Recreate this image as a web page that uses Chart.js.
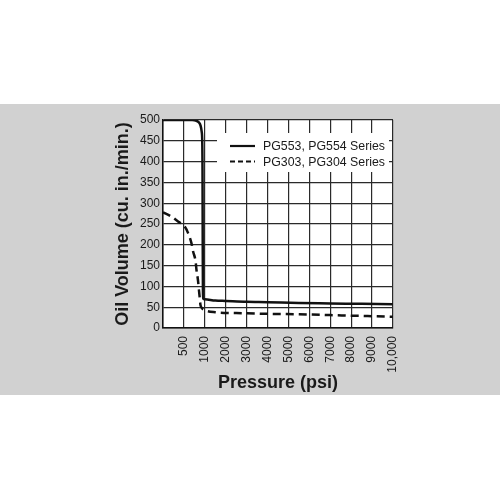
<!DOCTYPE html>
<html>
<head>
<meta charset="utf-8">
<script src="https://cdn.jsdelivr.net/npm/chart.js@4.4.1/dist/chart.umd.min.js"></script>
<style>
  body { margin: 0; background: #fff; }
  canvas { display: block; }
</style>
</head>
<body>
<canvas id="myChart" width="500" height="500"></canvas>
<script>
// tick labels along the pressure axis (equally spaced, not linear in psi)
var xTickLabels = ['', '500', '1000', '2000', '3000', '4000', '5000', '6000', '7000', '8000', '9000', '10,000'];

// PG553, PG554 Series
var pg553Psi = [0, 700, 800, 860, 900, 925, 938, 945, 950, 955, 962, 1000, 1500, 2000, 3000, 4000, 5500, 7000, 8500, 10000];
var pg553Oil = [500, 500, 498, 494, 486, 472, 450, 380, 200, 90, 71, 69, 66, 65, 63, 62, 60, 59, 58, 57];

// PG303, PG304 Series
var pg303Psi = [0, 200, 360, 520, 600, 680, 720, 780, 800, 835, 855, 875, 895, 930, 1000, 1500, 2500, 4000, 5500, 7000, 8500, 10000];
var pg303Oil = [278, 268, 256, 244, 228, 204, 184, 160, 140, 116, 96, 76, 56, 48, 43, 38, 36, 34, 33, 31, 29, 27];

var legendLabels = ['PG553, PG554 Series', 'PG303, PG304 Series'];

// position on the axis: 0-1000 psi takes two cells, then one cell per 1000 psi
function toPos(p) {
  return p <= 1000 ? p / 500 : 2 + (p - 1000) / 1000;
}
function pts(xs, ys) {
  return xs.map(function (p, i) { return { x: toPos(p), y: ys[i] }; });
}

Chart.defaults.font.family = '"Liberation Sans", Arial, sans-serif';
Chart.defaults.color = '#1a1a1a';

const background = {
  id: 'background',
  beforeDraw(chart) {
    const c = chart.ctx, a = chart.chartArea;
    c.save();
    c.fillStyle = '#fff';
    c.fillRect(0, 0, chart.width, chart.height);
    c.fillStyle = '#d1d1d1';
    c.fillRect(0, 104, chart.width, 291);
    c.fillStyle = '#fff';
    c.fillRect(a.left, a.top, a.right - a.left, a.bottom - a.top);
    c.restore();
  }
};

const boxLegend = {
  id: 'boxLegend',
  afterDatasetsDraw(chart) {
    const c = chart.ctx;
    c.save();
    c.fillStyle = '#fff';
    c.fillRect(217, 133, 172, 39);
    const rows = [146, 161.5];
    chart.data.datasets.forEach(function (ds, i) {
      const y = rows[i];
      c.strokeStyle = '#111';
      c.lineWidth = 2.2;
      c.setLineDash(i === 0 ? [] : [5, 3]);
      c.beginPath();
      c.moveTo(230, y);
      c.lineTo(255, y);
      c.stroke();
      c.setLineDash([]);
      c.font = '13.5px "Liberation Sans", Arial, sans-serif';
      c.fillStyle = '#1a1a1a';
      c.textBaseline = 'middle';
      const w = c.measureText(ds.label).width;
      const sx = Math.min(1, 122 / w);
      c.save();
      c.translate(263, y + 0.5);
      c.scale(sx, 1);
      c.fillText(ds.label, 0, 0);
      c.restore();
    });
    c.restore();
  }
};

const mychart = new Chart('myChart', {
  type: 'line',
  data: {
    datasets: [{
      label: legendLabels[0],
      data: pts(pg553Psi, pg553Oil),
      borderColor: '#111',
      borderWidth: 2.5,
      pointRadius: 0,
      cubicInterpolationMode: 'monotone',
      fill: false
    }, {
      label: legendLabels[1],
      data: pts(pg303Psi, pg303Oil),
      borderColor: '#111',
      borderWidth: 2.5,
      borderDash: [8, 5],
      pointRadius: 0,
      cubicInterpolationMode: 'monotone',
      fill: false
    }]
  },
  options: {
    responsive: false,
    animation: false,
    devicePixelRatio: 1,
    layout: {
      padding: { left: 100, right: 107, top: 120, bottom: 100 }
    },
    plugins: {
      legend: { display: false },
      tooltip: { enabled: false }
    },
    scales: {
      x: {
        type: 'linear',
        min: 0,
        max: 11,
        afterFit: function (s) { s.height = 72; },
        grid: { color: '#2a2a2a', lineWidth: 1.2, drawTicks: false },
        border: { color: '#111', width: 1.5 },
        ticks: {
          stepSize: 1,
          autoSkip: false,
          maxRotation: 90,
          minRotation: 90,
          padding: 8,
          font: { size: 12 },
          callback: function (v) { return xTickLabels[v]; }
        },
        title: {
          display: true,
          text: 'Pressure (psi)',
          font: { size: 18, weight: 'bold' },
          padding: { top: 6, bottom: 6 }
        }
      },
      y: {
        min: 0,
        max: 500,
        afterFit: function (s) { s.width = 63; },
        grid: { color: '#2a2a2a', lineWidth: 1.2, drawTicks: false },
        border: { color: '#111', width: 1.5 },
        ticks: {
          stepSize: 50,
          padding: 3,
          font: { size: 12 }
        },
        title: {
          display: true,
          text: 'Oil Volume (cu. in./min.)',
          font: { size: 18, weight: 'bold' },
          padding: { top: 12, bottom: 12 }
        }
      }
    }
  },
  plugins: [background, boxLegend]
});
</script>
</body>
</html>
